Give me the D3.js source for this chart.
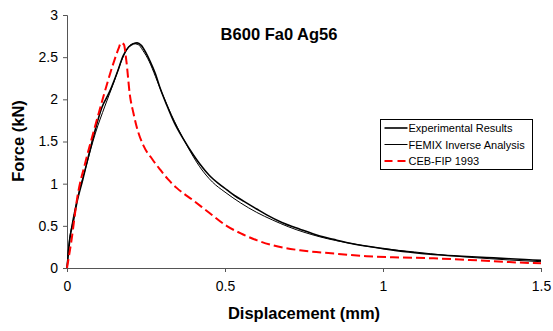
<!DOCTYPE html>
<html>
<head>
<meta charset="utf-8">
<script src="https://cdn.jsdelivr.net/npm/d3@7"></script>
<style>
  body { margin: 0; background: #fff; }
  svg { display: block; font-family: Arial, "Liberation Sans", sans-serif; }
</style>
</head>
<body>
<svg id="chart" width="553" height="331"></svg>
<script>
// Load–displacement curves for specimen B600 Fa0 Ag56
const expX   = [0, 0.005, 0.01, 0.02, 0.031, 0.05, 0.083, 0.11, 0.136, 0.16, 0.178, 0.195, 0.21, 0.222, 0.235, 0.25, 0.263, 0.28, 0.294, 0.316, 0.34, 0.368, 0.4, 0.421, 0.45, 0.48, 0.505, 0.53, 0.56, 0.6, 0.632, 0.68, 0.737, 0.8, 0.843, 0.9, 1.0, 1.08, 1.16, 1.25, 1.35, 1.45, 1.5];
const expY   = [0, 0.2, 0.37, 0.55, 0.77, 1.05, 1.55, 1.9, 2.1, 2.33, 2.52, 2.62, 2.66, 2.67, 2.64, 2.55, 2.45, 2.3, 2.14, 1.93, 1.72, 1.53, 1.34, 1.23, 1.1, 1.0, 0.93, 0.86, 0.79, 0.7, 0.63, 0.54, 0.46, 0.38, 0.34, 0.29, 0.23, 0.19, 0.16, 0.14, 0.12, 0.10, 0.09];

const femixX = [0, 0.005, 0.015, 0.03, 0.06, 0.09, 0.12, 0.15, 0.175, 0.195, 0.21, 0.225, 0.24, 0.26, 0.28, 0.3, 0.33, 0.37, 0.42, 0.46, 0.5, 0.55, 0.6, 0.65, 0.7, 0.8, 0.9, 1.0, 1.1, 1.2, 1.3, 1.4, 1.5];
const femixY = [0, 0.25, 0.5, 0.78, 1.2, 1.6, 1.92, 2.22, 2.48, 2.62, 2.66, 2.65, 2.58, 2.45, 2.27, 2.08, 1.82, 1.52, 1.2, 1.02, 0.9, 0.77, 0.66, 0.57, 0.49, 0.37, 0.29, 0.23, 0.19, 0.15, 0.12, 0.095, 0.075];

const cebX   = [0, 0.015, 0.031, 0.06, 0.083, 0.115, 0.147, 0.163, 0.171, 0.18, 0.188, 0.199, 0.21, 0.22, 0.242, 0.27, 0.294, 0.32, 0.347, 0.4, 0.452, 0.505, 0.55, 0.6, 0.65, 0.737, 0.85, 0.948, 1.05, 1.16, 1.3, 1.4, 1.5];
const cebY   = [0, 0.35, 0.8, 1.28, 1.6, 2.03, 2.43, 2.6, 2.67, 2.65, 2.45, 2.05, 1.84, 1.68, 1.45, 1.29, 1.17, 1.05, 0.95, 0.8, 0.65, 0.5, 0.41, 0.33, 0.27, 0.21, 0.17, 0.14, 0.125, 0.115, 0.09, 0.07, 0.055];

const xTicks = [0, 0.5, 1, 1.5];
const yTicks = [0, 0.5, 1, 1.5, 2, 2.5, 3];
const seriesNames = ["Experimental Results", "FEMIX Inverse Analysis", "CEB-FIP 1993"];
const titleText = "B600 Fa0 Ag56";

const svg = d3.select("#chart");
const x = d3.scaleLinear().domain([0, 1.5]).range([67, 541]);
const y = d3.scaleLinear().domain([0, 3]).range([268, 15]);

const series = [
  { name: seriesNames[0], xs: expX,   ys: expY,   color: "#000", width: 1.6, dash: null },
  { name: seriesNames[1], xs: femixX, ys: femixY, color: "#000", width: 1,   dash: null },
  { name: seriesNames[2], xs: cebX,   ys: cebY,   color: "#ff0000", width: 2, dash: "9,4" }
];

// Axes
const xAxis = svg.append("g").attr("transform", `translate(0,${y(0)})`)
  .call(d3.axisBottom(x).tickValues(xTicks).tickFormat(d3.format("")).tickSize(4).tickPadding(9));
const yAxis = svg.append("g").attr("transform", `translate(${x(0)},0)`)
  .call(d3.axisLeft(y).tickValues(yTicks).tickFormat(d3.format("")).tickSize(4).tickPadding(5));
[xAxis, yAxis].forEach(g => {
  g.selectAll("path, line").attr("stroke", "#555").attr("stroke-width", 1);
  g.selectAll("text").attr("font-size", 14).attr("fill", "#000")
    .attr("font-family", "Arial, 'Liberation Sans', sans-serif");
});

// Curves
const line = d3.line().curve(d3.curveMonotoneX);
series.forEach(s => {
  const pts = s.xs.map((v, i) => [x(v), y(s.ys[i])]);
  svg.append("path")
    .attr("d", line(pts))
    .attr("fill", "none")
    .attr("stroke", s.color)
    .attr("stroke-width", s.width)
    .attr("stroke-dasharray", s.dash);
});

// Title and axis labels
svg.append("text").attr("x", 279).attr("y", 40).attr("text-anchor", "middle")
  .attr("font-size", 16.5).attr("font-weight", "bold").text(titleText);
svg.append("text").attr("x", 304).attr("y", 319).attr("text-anchor", "middle")
  .attr("font-size", 16.5).attr("font-weight", "bold").text("Displacement (mm)");
svg.append("text").attr("transform", `translate(24,141) rotate(-90)`).attr("text-anchor", "middle")
  .attr("font-size", 16.5).attr("font-weight", "bold").text("Force (kN)");

// Legend
const lg = svg.append("g").attr("transform", "translate(380.5,119.5)");
lg.append("rect").attr("width", 152).attr("height", 50)
  .attr("fill", "#fff").attr("stroke", "#000").attr("stroke-width", 1);
series.forEach((s, i) => {
  const yy = 8.5 + i * 16.5;
  lg.append("line").attr("x1", 4).attr("x2", 27).attr("y1", yy).attr("y2", yy)
    .attr("stroke", s.color).attr("stroke-width", s.dash ? 2 : (i === 0 ? 1.6 : 1))
    .attr("stroke-dasharray", s.dash ? "8,5" : null);
  lg.append("text").attr("x", 28).attr("y", yy + 4).attr("font-size", 11).text(s.name);
});
</script>
</body>
</html>
